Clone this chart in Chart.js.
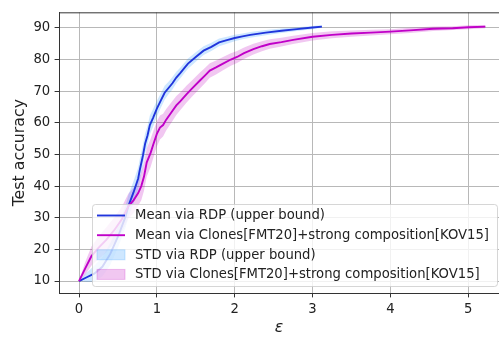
<!DOCTYPE html>
<html><head><meta charset="utf-8">
<script src="https://cdn.jsdelivr.net/npm/chart.js@4"></script>
<style>html,body{margin:0;padding:0;background:#fff;overflow:hidden}canvas{display:block}</style>
</head><body>
<canvas id="c" width="499" height="337"></canvas>
<script>
// ---- data ----
const xTicks = [0, 1, 2, 3, 4, 5];
const yTicks = [10, 20, 30, 40, 50, 60, 70, 80, 90];
const seriesLabels = [
  'Mean via RDP (upper bound)',
  'Mean via Clones[FMT20]+strong composition[KOV15]',
  'STD via RDP (upper bound)',
  'STD via Clones[FMT20]+strong composition[KOV15]'
];
const xTitle = 'ε';
const yTitle = 'Test accuracy';

const rdpEps = [0, 0.1, 0.2, 0.3, 0.4, 0.5, 0.6, 0.633, 0.7, 0.76, 0.78, 0.82, 0.85, 0.88, 0.91, 0.95, 1.0, 1.05, 1.1, 1.15, 1.2, 1.25, 1.3, 1.36, 1.4, 1.5, 1.6, 1.7, 1.8, 1.9, 2.0, 2.1, 2.2, 2.4, 2.6, 2.8, 3.0, 3.12];
const rdpMean = [10, 11.2, 12.4, 14.5, 18.5, 24, 30.5, 33.6, 38, 42.4, 45, 49.5, 53.5, 56, 59.3, 61.5, 64.5, 67, 69.5, 71, 72.5, 74.3, 75.7, 77.5, 78.7, 80.8, 82.8, 84, 85.4, 86.1, 86.8, 87.3, 87.8, 88.5, 89.1, 89.6, 90.1, 90.4];
const rdpStd = [0, 1.5, 2.5, 3, 3.5, 3.5, 3.5, 3.5, 3.5, 3.5, 3.5, 3.5, 3.2, 3, 3, 2.8, 2.5, 2.3, 2.2, 2, 2, 1.8, 1.7, 1.6, 1.6, 1.5, 1.4, 1.3, 1.2, 1.1, 1.0, 0.9, 0.9, 0.8, 0.7, 0.6, 0.5, 0.4];

const clonesEps = [0, 0.08, 0.16, 0.25, 0.35, 0.45, 0.55, 0.633, 0.7, 0.76, 0.8, 0.835, 0.87, 0.92, 0.955, 1.0, 1.04, 1.08, 1.12, 1.19, 1.25, 1.3, 1.38, 1.45, 1.55, 1.62, 1.68, 1.76, 1.85, 1.95, 2.03, 2.12, 2.24, 2.35, 2.45, 2.6, 2.75, 3.0, 3.25, 3.5, 3.75, 4.0, 4.25, 4.55, 4.8, 5.0, 5.22];
const clonesMean = [10, 14, 17.9, 20.5, 23, 26, 29.5, 33.6, 35.5, 37.8, 40, 43, 47.5, 50.5, 53.2, 56.5, 58.5, 59.3, 61, 63.4, 65.5, 66.8, 69, 70.8, 73.3, 75, 76.5, 77.5, 78.7, 80, 80.8, 82, 83.3, 84.2, 84.9, 85.5, 86.2, 87.2, 87.8, 88.2, 88.5, 88.8, 89.2, 89.7, 89.9, 90.2, 90.4];
const clonesStd = [0, 2, 3, 3.5, 4, 4, 4, 4, 4, 4, 4.5, 4.5, 4.5, 4.5, 4.2, 4, 3.8, 3.6, 3.4, 3.2, 3, 2.8, 2.7, 2.6, 2.5, 2.4, 2.3, 2.2, 2.1, 2, 1.9, 1.8, 1.7, 1.6, 1.5, 1.4, 1.3, 1.2, 1.1, 1.0, 0.9, 0.8, 0.8, 0.7, 0.6, 0.6, 0.5];

// ---- styles ----
const BLUE = '#2035dc';
const MAG = '#c000c8';
const BLUE_BAND = 'rgba(30,144,255,0.22)';
const MAG_BAND = 'rgba(191,0,191,0.22)';
const FONT = 'DejaVu Sans';
const TXT = '#222';
const TICK_SIZE = 13.2;
const LABEL_SIZE = 15.8;

const pts = (xs, ys) => xs.map((x, i) => ({x: x, y: ys[i]}));
const off = (ys, sd, s) => ys.map((y, i) => y + s * sd[i]);

const frameAndLegend = {
  id: 'frameAndLegend',
  afterDatasetsDraw(chart) {
    const {ctx, chartArea: a} = chart;
    ctx.save();
    // top spine
    ctx.strokeStyle = '#333';
    ctx.lineWidth = 1;
    ctx.beginPath();
    ctx.moveTo(a.left, a.top + 0.5);
    ctx.lineTo(a.right, a.top + 0.5);
    ctx.stroke();

    // legend
    const bx = 92.5, by = 204.5, bw = 405, bh = 82, r = 3;
    ctx.beginPath();
    ctx.moveTo(bx + r, by);
    ctx.lineTo(bx + bw - r, by); ctx.arcTo(bx + bw, by, bx + bw, by + r, r);
    ctx.lineTo(bx + bw, by + bh - r); ctx.arcTo(bx + bw, by + bh, bx + bw - r, by + bh, r);
    ctx.lineTo(bx + r, by + bh); ctx.arcTo(bx, by + bh, bx, by + bh - r, r);
    ctx.lineTo(bx, by + r); ctx.arcTo(bx, by, bx + r, by, r);
    ctx.closePath();
    ctx.fillStyle = 'rgba(255,255,255,0.8)';
    ctx.fill();
    ctx.strokeStyle = 'rgba(204,204,204,0.8)';
    ctx.stroke();

    const rows = [215.5, 235.2, 254.8, 274.4];
    const kinds = [
      {type: 'line', color: BLUE},
      {type: 'line', color: MAG},
      {type: 'patch', color: BLUE_BAND},
      {type: 'patch', color: MAG_BAND}
    ];
    ctx.font = TICK_SIZE + 'px "' + FONT + '"';
    ctx.textBaseline = 'middle';
    ctx.textAlign = 'left';
    kinds.forEach((k, i) => {
      const y = rows[i];
      if (k.type === 'line') {
        ctx.strokeStyle = k.color; ctx.lineWidth = 1.9;
        ctx.beginPath(); ctx.moveTo(97, y); ctx.lineTo(125, y); ctx.stroke();
      } else {
        ctx.fillStyle = k.color;
        ctx.fillRect(97, y - 5, 28, 10);
        ctx.strokeStyle = k.color; ctx.lineWidth = 1;
        ctx.strokeRect(97, y - 5, 28, 10);
      }
      ctx.fillStyle = TXT;
      ctx.fillText(seriesLabels[i], 135, y + 0.5);
    });
    ctx.restore();
  }
};

const band = (xs, ys, sd, color, lab) => [
  {label: lab + ' lo', data: pts(xs, off(ys, sd, -1)), borderWidth: 0, pointRadius: 0, fill: false, order: 2, borderColor: 'rgba(0,0,0,0)'},
  {label: lab, data: pts(xs, off(ys, sd, 1)), borderWidth: 0, pointRadius: 0, fill: '-1', backgroundColor: color, order: 2, borderColor: 'rgba(0,0,0,0)'}
];

new Chart(document.getElementById('c'), {
  type: 'line',
  data: {
    datasets: [
      ...band(rdpEps, rdpMean, rdpStd, BLUE_BAND, seriesLabels[2]),
      ...band(clonesEps, clonesMean, clonesStd, MAG_BAND, seriesLabels[3]),
      {label: seriesLabels[0], data: pts(rdpEps, rdpMean), borderColor: BLUE, borderWidth: 1.9, pointRadius: 0, fill: false, tension: 0, order: 1},
      {label: seriesLabels[1], data: pts(clonesEps, clonesMean), borderColor: MAG, borderWidth: 1.9, pointRadius: 0, fill: false, tension: 0, order: 0}
    ]
  },
  options: {
    responsive: false, animation: false, devicePixelRatio: 1,
    layout: {padding: {top: 4, right: 0, bottom: 0, left: 0}},
    plugins: {legend: {display: false}, tooltip: {enabled: false}},
    scales: {
      x: {
        type: 'linear', min: -0.257, max: 5.395,
        afterBuildTicks: s => { s.ticks = xTicks.map(v => ({value: v})); },
        afterFit: s => { s.height = 44; },
        grid: {color: '#b8b8b8', lineWidth: 1, tickColor: '#333', tickLength: 4.4},
        border: {color: '#333', width: 1},
        ticks: {font: {family: FONT, size: TICK_SIZE}, color: TXT, padding: 4.4, maxRotation: 0, autoSkip: false},
        title: {display: true, text: xTitle, color: TXT, font: {family: FONT, size: LABEL_SIZE, style: 'italic'}, padding: {top: 0, bottom: 0}}
      },
      y: {
        type: 'linear', min: 6.23, max: 94.91,
        afterBuildTicks: s => { s.ticks = yTicks.map(v => ({value: v})); },
        afterFit: s => { s.width = 59; },
        grid: {color: '#b8b8b8', lineWidth: 1, tickColor: '#333', tickLength: 4.4},
        border: {color: '#333', width: 1},
        ticks: {font: {family: FONT, size: TICK_SIZE}, color: TXT, padding: 4.4, autoSkip: false},
        title: {display: true, text: yTitle, color: TXT, font: {family: FONT, size: LABEL_SIZE}, padding: {top: 10.5, bottom: 0}}
      }
    }
  },
  plugins: [frameAndLegend]
});
</script>
</body></html>
